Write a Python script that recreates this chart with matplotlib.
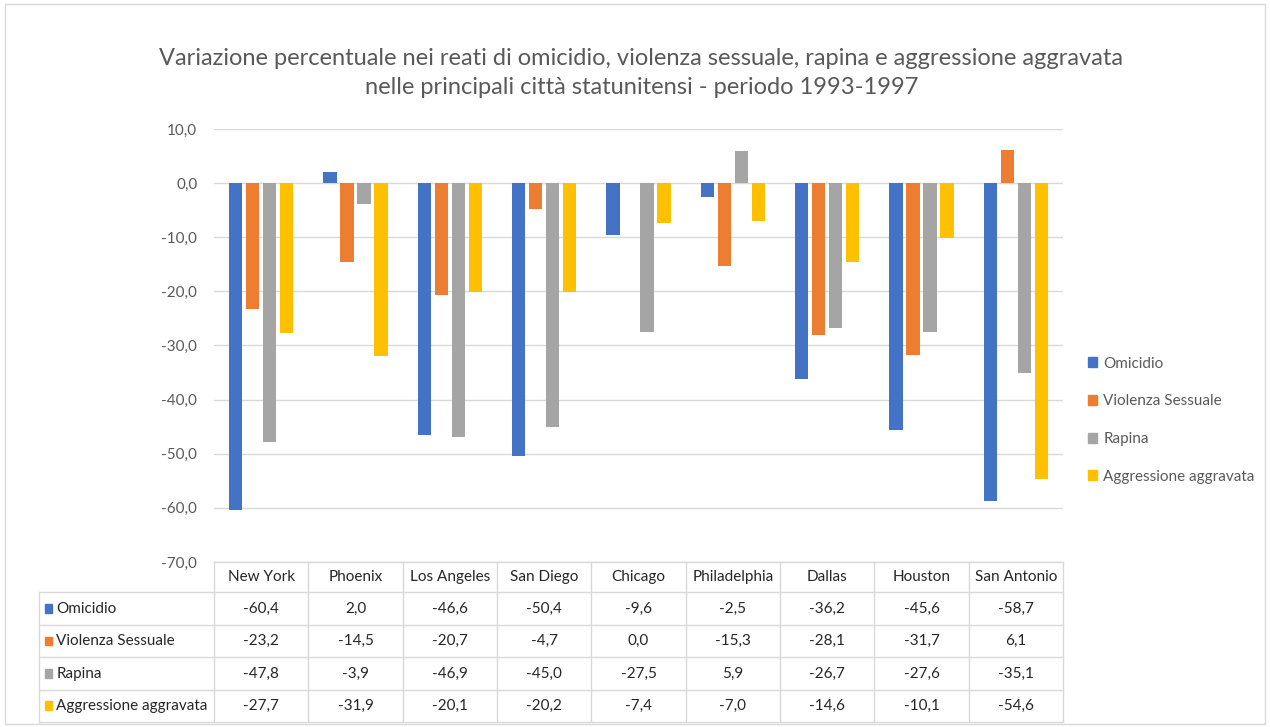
import numpy as np
import matplotlib as mpl
mpl.use('Agg')
import matplotlib.pyplot as plt
from matplotlib.patches import Rectangle

plt.rcParams['font.family'] = ['Lato', 'DejaVu Sans']

cities = ['New York', 'Phoenix', 'Los Angeles', 'San Diego', 'Chicago',
          'Philadelphia', 'Dallas', 'Houston', 'San Antonio']
series = ['Omicidio', 'Violenza Sessuale', 'Rapina', 'Aggressione aggravata']
omicidio = [-60.4, 2.0, -46.6, -50.4, -9.6, -2.5, -36.2, -45.6, -58.7]
violenza = [-23.2, -14.5, -20.7, -4.7, 0.0, -15.3, -28.1, -31.7, 6.1]
rapina = [-47.8, -3.9, -46.9, -45.0, -27.5, 5.9, -26.7, -27.6, -35.1]
aggressione = [-27.7, -31.9, -20.1, -20.2, -7.4, -7.0, -14.6, -10.1, -54.6]
colors = ['#4472C4', '#ED7D31', '#A5A5A5', '#FFC000']
title = ('Variazione percentuale nei reati di omicidio, violenza sessuale, rapina e aggressione aggravata\n'
         'nelle principali città statunitensi - periodo 1993-1997')

data = [omicidio, violenza, rapina, aggressione]
txt = '#595959'
grid = '#D9D9D9'

def fmt(v):
    return ('%.1f' % v).replace('.', ',')

fig = plt.figure(figsize=(12.7, 7.27), dpi=100)
fig.patches.append(Rectangle((0.004, 0.004), 0.992, 0.99, transform=fig.transFigure,
                             fill=False, edgecolor='#D9D9D9', lw=1))

ax = fig.add_axes([0.1685, 0.227, 0.6685, 0.5956])
x = np.arange(len(cities))
w = 0.14
step = 0.18
for i, (s, vals) in enumerate(zip(series, data)):
    ax.bar(x + (i - 1.5) * step, vals, w, color=colors[i], label=s, zorder=3)

ax.set_xlim(-0.5, len(cities) - 0.5)
ax.set_ylim(-70, 10)
ax.set_yticks(np.arange(-70, 11, 10))
ax.set_yticklabels([fmt(v) for v in np.arange(-70, 11, 10)], color=txt, fontsize=11)
ax.set_xticks([])
ax.tick_params(axis='y', length=0, pad=12)
ax.grid(axis='y', color=grid, lw=1, zorder=0)
for sp in ax.spines.values():
    sp.set_visible(False)

fig.text(0.505, 0.90, title, ha='center', va='center', fontsize=17, color=txt,
         linespacing=1.45)

# data table under the chart
tx = fig.add_axes([0.1685, 0.007, 0.6685, 0.22])
tx.set_xlim(-0.5, len(cities) - 0.5)
tx.set_ylim(5, 0)
tx.axis('off')
rows_y = [0, 0.95, 1.96, 2.98, 4.0, 5.0]
left = -0.5 - 1.86
right = len(cities) - 0.5
lc = '#D9D9D9'
tx.plot([-0.5, right], [rows_y[0]] * 2, color=lc, lw=1, clip_on=False)
for yy in rows_y[1:]:
    tx.plot([left, right], [yy, yy], color=lc, lw=1, clip_on=False)
for xx in np.arange(-0.5, len(cities), 1.0):
    tx.plot([xx, xx], [rows_y[0], rows_y[-1]], color=lc, lw=1, clip_on=False)
tx.plot([left, left], [rows_y[1], rows_y[-1]], color=lc, lw=1, clip_on=False)

for j, c in enumerate(cities):
    tx.text(j, (rows_y[0] + rows_y[1]) / 2, c, ha='center', va='center',
            fontsize=11, color='#262626', clip_on=False)
for i, (s, vals) in enumerate(zip(series, data)):
    yc = (rows_y[i + 1] + rows_y[i + 2]) / 2
    tx.add_patch(Rectangle((left + 0.07, yc - 0.14), 0.075, 0.28, color=colors[i],
                           clip_on=False))
    tx.text(left + 0.19, yc, s, ha='left', va='center', fontsize=11,
            color='#262626', clip_on=False)
    for j, v in enumerate(vals):
        tx.text(j, yc, fmt(v), ha='center', va='center', fontsize=11,
                color='#262626', clip_on=False)

handles = [Rectangle((0, 0), 1, 1, color=c) for c in colors]
fig.legend(handles, series, loc='center left', bbox_to_anchor=(0.846, 0.422),
           frameon=False, fontsize=11, labelcolor=txt, handlelength=0.6,
           handleheight=0.6, handletextpad=0.4, labelspacing=1.55)

fig.savefig('out.png', dpi=100, facecolor='white')
